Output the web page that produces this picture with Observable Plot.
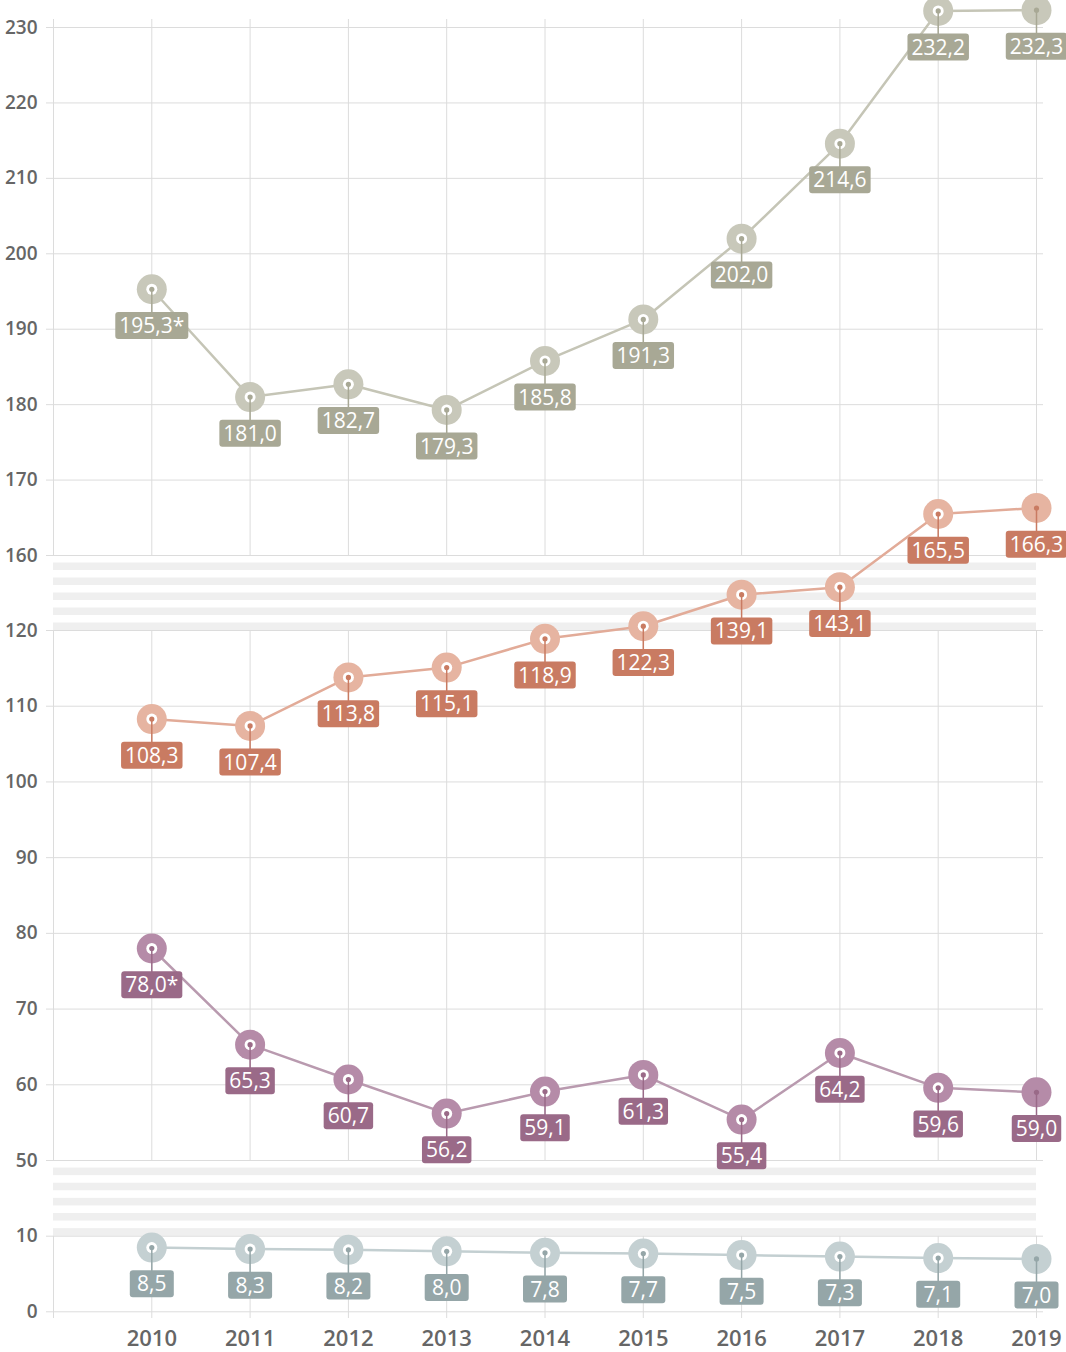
<!DOCTYPE html>
<html>
<head>
<meta charset="utf-8">
<script src="https://cdn.jsdelivr.net/npm/d3@7"></script>
<script src="https://cdn.jsdelivr.net/npm/@observablehq/plot@0.6"></script>
<style>
  html, body { margin: 0; padding: 0; background: #fff; }
  #chart svg { display: block; overflow: visible; }
</style>
</head>
<body>
<div id="chart"></div>
<script>
// ---- data ----
const years = [2010, 2011, 2012, 2013, 2014, 2015, 2016, 2017, 2018, 2019];

const grayValues   = [195.3, 181.0, 182.7, 179.3, 185.8, 191.3, 202.0, 214.6, 232.2, 232.3];
const grayLabels   = ["195,3*", "181,0", "182,7", "179,3", "185,8", "191,3", "202,0", "214,6", "232,2", "232,3"];

const redValues    = [108.3, 107.4, 113.8, 115.1, 118.9, 122.3, 139.1, 143.1, 165.5, 166.3];
const redLabels    = ["108,3", "107,4", "113,8", "115,1", "118,9", "122,3", "139,1", "143,1", "165,5", "166,3"];

const purpleValues = [78.0, 65.3, 60.7, 56.2, 59.1, 61.3, 55.4, 64.2, 59.6, 59.0];
const purpleLabels = ["78,0*", "65,3", "60,7", "56,2", "59,1", "61,3", "55,4", "64,2", "59,6", "59,0"];

const blueValues   = [8.5, 8.3, 8.2, 8.0, 7.8, 7.7, 7.5, 7.3, 7.1, 7.0];
const blueLabels   = ["8,5", "8,3", "8,2", "8,0", "7,8", "7,7", "7,5", "7,3", "7,1", "7,0"];

const yTicks = [0, 10, 50, 60, 70, 80, 90, 100, 110, 120, 160, 170, 180, 190, 200, 210, 220, 230];
const yBreaks = [[10, 50], [120, 160]];

// ---- styles ----
const styles = [
  {ring: "#c8c8ba", line: "#c5c5b6", dark: "#a8a895"},
  {ring: "#e6b4a1", line: "#e2ab98", dark: "#c97b62"},
  {ring: "#b58ba8", line: "#b99aaf", dark: "#9a6a88"},
  {ring: "#c4d0d2", line: "#c3cfd1", dark: "#95a6a8"}
];

const series = [
  [grayValues, grayLabels],
  [redValues, redLabels],
  [purpleValues, purpleLabels],
  [blueValues, blueLabels]
].map(([vals, labs]) => years.map((year, i) => ({year, value: vals[i], label: labs[i], last: i === years.length - 1})));

// break stripes: 5 bands per break, alternating
const stripes = yBreaks.flatMap(([a, b]) => {
  const u = (b - a) / 10;
  return d3.range(5).map(k => ({y1: a + 2 * k * u, y2: a + (2 * k + 1) * u}));
});

const gridYears = [2009, ...years];
const grid = "#dcdcdc";

const seriesMarks = series.flatMap((rows, i) => {
  const st = styles[i];
  return [
    Plot.line(rows, {x: "year", y: "value", stroke: st.line, strokeWidth: 2.5}),
    Plot.dot(rows, {x: "year", y: "value", r: 15, fill: st.ring}),
    Plot.dot(rows.filter(d => !d.last), {x: "year", y: "value", r: 5.5, fill: "white"}),
    Plot.ruleX(rows, {x: "year", y1: "value", y2: "value", insetBottom: -24, stroke: st.dark, strokeWidth: 1.5}),
    Plot.dot(rows, {x: "year", y: "value", r: 2.6, fill: st.dark}),
    Plot.text(rows, {x: "year", y: "value", text: "label", dy: 37, fill: "white", fontSize: 21, fontWeight: 500})
  ];
});

const chart = Plot.plot({
  width: 1066,
  height: 1352,
  marginLeft: 46,
  marginRight: 23,
  marginTop: 19,
  marginBottom: 34,
  x: {domain: [2009, 2019], range: [53, 1036], label: null},
  y: {type: "linear", domain: [0, 10, 50, 120, 160, 230], range: [1311.3, 1235.7, 1160, 630, 555, 27], label: null},
  style: {fontFamily: "'Open Sans', sans-serif", background: "white", color: "#666", overflow: "visible"},
  marks: [
    Plot.ruleX(gridYears, {stroke: grid}),
    Plot.rect(yBreaks, {x1: 2009, x2: 2019, y1: d => d[0], y2: d => d[1], fill: "white", insetLeft: -1, insetRight: -1}),
    Plot.rect(stripes, {x1: 2009, x2: 2019, y1: "y1", y2: "y2", fill: "#efefef"}),
    Plot.ruleY(yTicks, {stroke: grid}),
    Plot.axisY({ticks: yTicks, tickSize: 0, tickPadding: 9, fontSize: 19, fontWeight: 600, label: null, tickFormat: d => String(d)}),
    Plot.axisX({ticks: years, tickSize: 0, tickPadding: 12, fontSize: 22, fontWeight: 600, label: null, tickFormat: "d"}),
    ...seriesMarks
  ]
});

document.getElementById("chart").append(chart);

// rounded label boxes behind the value texts (the four series' text marks, in order)
const svgNS = "http://www.w3.org/2000/svg";
const textGroups = Array.from(chart.querySelectorAll('g[aria-label="text"]'));
textGroups.forEach((g, i) => {
  const st = styles[i];
  if (!st) return;
  g.querySelectorAll("text").forEach(t => {
    const b = t.getBBox();
    const w = Math.max(b.width + 8, 44);
    const cx = b.x + b.width / 2;
    const r = document.createElementNS(svgNS, "rect");
    r.setAttribute("x", cx - w / 2);
    r.setAttribute("y", -14.3);
    r.setAttribute("width", w);
    r.setAttribute("height", 27);
    r.setAttribute("rx", 3);
    r.setAttribute("fill", st.dark);
    const tr = t.getAttribute("transform");
    if (tr) r.setAttribute("transform", tr);
    g.insertBefore(r, t);
  });
});
</script>
</body>
</html>
